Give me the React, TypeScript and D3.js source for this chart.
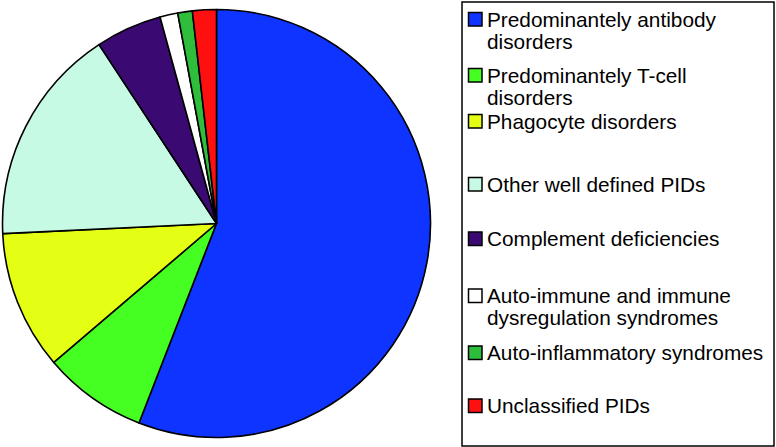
import React from "react";
import * as d3 from "d3";

const categories: string[][] = [
  ["Predominantely antibody", "disorders"],
  ["Predominantely T-cell", "disorders"],
  ["Phagocyte disorders"],
  ["Other well defined PIDs"],
  ["Complement deficiencies"],
  ["Auto-immune and immune", "dysregulation syndromes"],
  ["Auto-inflammatory syndromes"],
  ["Unclassified PIDs"],
];
const values: number[] = [55.9, 7.85, 10.5, 16.5, 5.0, 1.35, 1.1, 1.8];
const colors: string[] = [
  "#0F34FF",
  "#46FF22",
  "#E4FF14",
  "#C6FAE4",
  "#3A0A72",
  "#FFFFFF",
  "#2EBE3C",
  "#FF1010",
];

// legend layout (baseline of first line for each entry)
const legendBaselines: number[] = [26.5, 82.5, 128.5, 191.5, 246, 303, 360, 413];

export default function App() {
  const W = 776;
  const H = 447;
  const cx = 216.5;
  const cy = 223.5;
  const r = 214;

  const pie = d3
    .pie<number>()
    .sort(null)
    .value((d) => d)
    .startAngle(0)
    .endAngle(2 * Math.PI);
  const arcs = pie(values);
  const arc = d3.arc<d3.PieArcDatum<number>>().innerRadius(0).outerRadius(r);

  const lineH = 22;
  return (
    <svg
      width={W}
      height={H}
      style={{ position: "absolute", left: 0, top: 0, background: "#fff" }}
      fontFamily="'Liberation Sans', Arial, Helvetica, sans-serif"
    >
      <g transform={`translate(${cx},${cy})`}>
        {arcs.map((a, i) => (
          <path
            key={i}
            d={arc(a) || ""}
            fill={colors[i]}
            stroke="#000"
            strokeWidth={1.6}
            strokeLinejoin="round"
          />
        ))}
      </g>
      <rect x={462} y={2} width={312} height={444} fill="#fff" stroke="#000" strokeWidth={1.5} />
      {categories.map((lines, i) => {
        const by = legendBaselines[i];
        return (
          <g key={i}>
            <rect
              x={468.5}
              y={by - 14}
              width={13.5}
              height={13.5}
              fill={colors[i]}
              stroke="#000"
              strokeWidth={1.5}
            />
            {lines.map((t, j) => (
              <text key={j} x={487} y={by + j * lineH} fontSize={20.8} fill="#000">
                {t}
              </text>
            ))}
          </g>
        );
      })}
    </svg>
  );
}
